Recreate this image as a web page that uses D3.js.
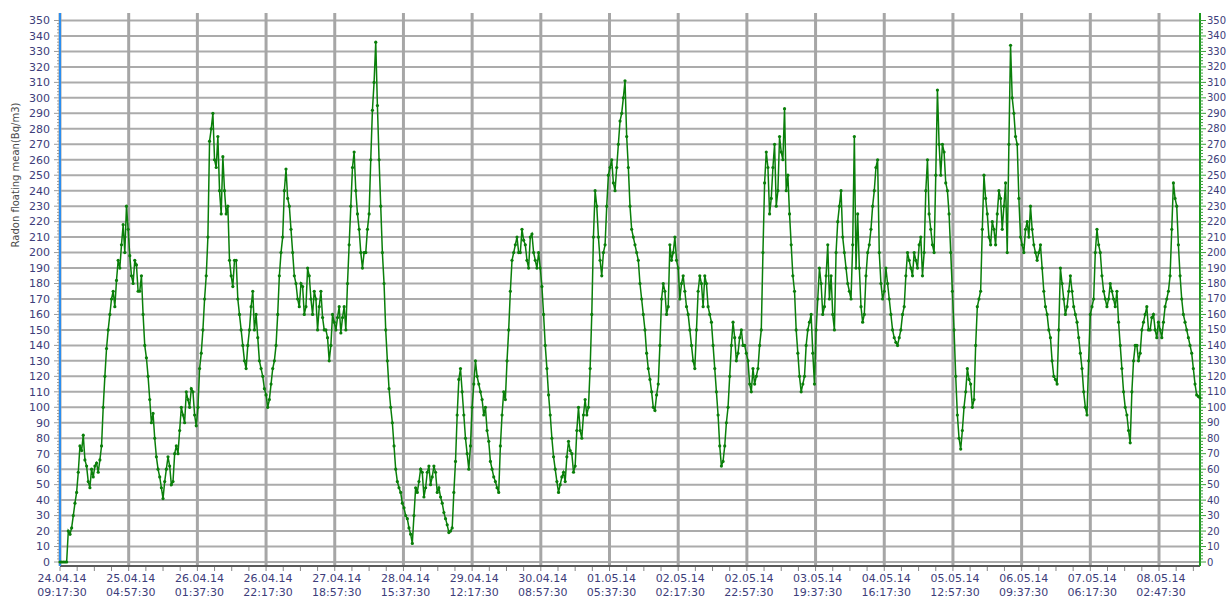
<!DOCTYPE html>
<html>
<head>
<meta charset="utf-8">
<script src="https://cdn.jsdelivr.net/npm/d3@7"></script>
<style>
  body { margin: 0; background: #fff; overflow: hidden; }
  text { font-family: "DejaVu Sans", Verdana, sans-serif; }
</style>
</head>
<body>
<div id="chart"></div>
<script>
// x tick labels (date line + time line)
var tickDates = ['24.04.14', '25.04.14', '26.04.14', '26.04.14', '27.04.14', '28.04.14', '29.04.14', '30.04.14', '01.05.14',
                 '02.05.14', '02.05.14', '03.05.14', '04.05.14', '05.05.14', '06.05.14', '07.05.14', '08.05.14'];
var tickTimes = ['09:17:30', '04:57:30', '01:37:30', '22:17:30', '18:57:30', '15:37:30', '12:17:30', '08:57:30', '05:37:30',
                 '02:17:30', '22:57:30', '19:37:30', '16:17:30', '12:57:30', '09:37:30', '06:17:30', '02:47:30'];
// y ticks 0..350
var yTicks = d3.range(0, 351, 10);
// radon floating mean, Bq/m3, reading on the hour, from 24.04.14 09:17:30
var radon = [
  0, 0, 0, 18, 30, 45, 75, 82, 62, 48,
  55, 64, 66, 100, 138, 160, 175, 182, 190, 218,
  230, 198, 180, 192, 175, 160, 132, 105, 96, 68,
  55, 41, 60, 62, 52, 75, 85, 95, 110, 100,
  110, 88, 125, 150, 185, 272, 290, 255, 240, 262,
  225, 195, 178, 195, 160, 140, 125, 150, 175, 160,
  130, 120, 108, 105, 125, 140, 185, 210, 254, 230,
  200, 180, 165, 178, 165, 185, 160, 170, 165, 158,
  150, 130, 160, 150, 165, 158,
  150, 205, 255, 240,
  215, 190, 200, 225, 292, 336, 260, 200, 150, 112,
  90, 60, 48, 38, 30, 22, 12, 48, 52, 58,
  48, 62, 55, 58, 48, 38, 28, 19, 22, 65,
  118, 110, 80, 60, 100, 130, 115, 105, 100, 78,
  60, 52, 45, 95, 105, 150, 195, 205, 200, 215,
  205, 190, 212, 195, 200, 178, 140, 108, 80, 60,
  45, 55, 52, 78, 70, 62, 100, 80, 105, 100,
  160, 240, 210, 185, 205, 250, 260, 240, 270, 290,
  311, 255,
  215, 205, 195, 170, 150, 125, 110, 98,
  115, 170, 175, 165, 195, 210, 190, 180, 175, 160,
  140, 125, 175, 180, 185, 165, 155, 125, 95, 62,
  75, 100, 140, 145, 135, 150, 140, 130, 110, 115,
  125, 150, 245, 255, 235, 270, 240, 265, 293, 250,
  205, 175, 135, 110, 120, 150, 160, 115, 170, 180,
  165, 205, 185, 150, 220, 240, 200, 180, 170, 275,
  225, 165, 160, 200, 215, 240, 260, 180, 175, 180,
  160, 145, 140, 150, 165, 200, 190,
  200, 190, 210,
  200, 260, 215, 200, 305, 250, 265, 240, 200, 150,
  95, 73, 100, 125, 115, 105, 165, 175, 250, 225,
  205, 215, 225, 235, 230, 200, 334, 290, 270, 210,
  200, 220, 230, 205, 195, 205, 175, 160, 145, 120,
  115, 190, 170, 165, 185, 165, 155, 135, 110, 95,
  160, 170, 215, 200, 175, 165, 180, 170, 175, 140,
  110, 95, 77, 130, 140, 135, 155, 165, 150, 160,
  145, 150, 155, 170, 185, 245, 230, 185, 160, 150,
  140, 125, 108, 106
];
// readings at half past each hour
var radonHalf = [
  0, 0, 20, 22, 38, 58, 72, 66, 52, 60,
  62, 58, 75, 120, 150, 170, 165, 195, 205, 200,
  215, 185, 195, 175, 185, 140, 120, 90, 80, 60,
  48, 52, 68, 50, 70, 70, 100, 90, 105, 112,
  95, 100, 135, 170, 210, 280, 260, 275, 225, 240,
  230, 185, 195, 170, 150, 130, 140, 165, 150, 145,
  125, 112, 100, 115, 130, 160, 200, 240, 235, 215,
  185, 170, 180, 160, 190, 170, 175, 150, 175, 150,
  145, 140, 155, 158, 148, 165,
  180, 230, 265, 225,
  200, 200, 215, 260, 310, 295, 230, 180, 130, 100,
  75, 52, 45, 35, 28, 18, 30, 45, 60, 42,
  58, 50, 62, 45, 42, 32, 24, 20, 45, 95,
  125, 95, 70, 75, 115, 120, 110, 95, 85, 65,
  55, 48, 75, 110, 130, 175, 200, 210, 200, 208,
  195, 210, 200, 190, 190, 160, 125, 95, 68, 52,
  50, 58, 68, 72, 58, 85, 85, 95, 95, 125,
  210, 230, 195, 200, 230, 255, 245, 255, 285, 300,
  275, 230,
  210, 200, 180, 160, 135, 118, 100, 108,
  140, 180, 160, 205, 200, 195, 170, 185, 165, 150,
  130, 150, 185, 165, 180, 160, 140, 110, 75, 65,
  90, 120, 155, 130, 145, 140, 135, 115, 125, 120,
  140, 200, 265, 225, 255, 230, 275, 260, 240, 225,
  185, 150, 120, 115, 140, 155, 135, 150, 190, 160,
  185, 170, 160, 200, 230, 210, 190, 175, 205, 190,
  190, 155, 185, 205, 230, 255, 200, 170, 190, 170,
  150, 142, 145, 160, 185, 195, 185,
  195, 205, 185,
  240, 225, 205, 250, 270, 270, 245, 225, 175, 120,
  80, 85, 110, 118, 100, 140, 170, 215, 235, 210,
  220, 205, 240, 215, 245, 270, 300, 275, 235, 205,
  215, 210, 215, 200, 200, 190, 165, 150, 130, 118,
  150, 180, 160, 175, 175, 160, 145, 125, 100, 130,
  165, 200, 205, 185, 170, 170, 175, 165, 155, 125,
  100, 85, 110, 140, 130, 150, 160, 150, 158, 150,
  155, 145, 165, 175, 215, 235, 205, 170, 155, 145,
  135, 115, 107
];
var hoursPerTick = 20 + 40 / 60;

// merge into one series of {t (hours), v}
var series = [];
radon.forEach(function(v, i) {
  series.push({t: i, v: v});
  if (i < radonHalf.length) series.push({t: i + 0.5, v: radonHalf[i]});
});

var W = 1228, H = 601;
var svg = d3.select('#chart').append('svg').attr('width', W).attr('height', H);

var x = d3.scaleLinear().domain([0, radon.length - 1]).range([60, 1200]);
var y = d3.scaleLinear().domain([0, 350]).range([562, 20.5]);
var tickPos = tickDates.map(function(d, i) { return i * hoursPerTick; });
var minorX = d3.range(0, radon.length - 1, hoursPerTick / 4);
var minorY = d3.range(0, 351, 2);

var labelColor = '#3d3d7a';

// grid
var grid = svg.append('g');
grid.selectAll('line.h').data(yTicks).enter().append('line')
  .attr('class', 'h').attr('x1', 60).attr('x2', 1200)
  .attr('y1', function(d) { return y(d); }).attr('y2', function(d) { return y(d); })
  .attr('stroke', '#ababab').attr('stroke-width', 2);
grid.selectAll('line.v').data(tickPos).enter().append('line')
  .attr('class', 'v').attr('y1', 13).attr('y2', 566)
  .attr('x1', function(d) { return x(d); }).attr('x2', function(d) { return x(d); })
  .attr('stroke', '#a6a6a6').attr('stroke-width', 3);

// bottom axis
var bx = svg.append('g');
bx.append('line').attr('x1', 60).attr('x2', 1200).attr('y1', 566).attr('y2', 566)
  .attr('stroke', '#5a5a5a').attr('stroke-width', 2);
bx.selectAll('line.mn').data(minorX).enter().append('line')
  .attr('x1', function(d) { return x(d); }).attr('x2', function(d) { return x(d); })
  .attr('y1', 567).attr('y2', 571).attr('stroke', '#888').attr('stroke-width', 1);
var lab = bx.selectAll('g.lab').data(tickPos).enter().append('g')
  .attr('transform', function(d) { return 'translate(' + (x(d) + 2) + ',0)'; });
lab.append('text').attr('y', 582).attr('text-anchor', 'middle').attr('font-size', 11)
  .attr('fill', labelColor).text(function(d, i) { return tickDates[i]; });
lab.append('text').attr('y', 596).attr('text-anchor', 'middle').attr('font-size', 11)
  .attr('fill', labelColor).text(function(d, i) { return tickTimes[i]; });

// left axis
var ly = svg.append('g');
ly.selectAll('line.mn').data(minorY).enter().append('line')
  .attr('x1', function(d) { return d % 10 === 0 ? 54 : 57; }).attr('x2', 60)
  .attr('y1', function(d) { return y(d); }).attr('y2', function(d) { return y(d); })
  .attr('stroke', '#9a9a9a').attr('stroke-width', 1);
ly.append('line').attr('x1', 60).attr('x2', 60).attr('y1', 13).attr('y2', 566)
  .attr('stroke', '#2a8ef0').attr('stroke-width', 2);
ly.selectAll('text').data(yTicks).enter().append('text')
  .attr('x', 50).attr('y', function(d) { return y(d); }).attr('dy', '0.35em')
  .attr('text-anchor', 'end').attr('font-size', 11).attr('fill', labelColor)
  .text(function(d) { return d; });

// right axis
var ry = svg.append('g');
ry.append('line').attr('x1', 1200).attr('x2', 1200).attr('y1', 13).attr('y2', 566)
  .attr('stroke', '#1e9a1e').attr('stroke-width', 2);
ry.selectAll('line.mn').data(minorY).enter().append('line')
  .attr('x1', 1200).attr('x2', function(d) { return d % 10 === 0 ? 1206 : 1203; })
  .attr('y1', function(d) { return y(d); }).attr('y2', function(d) { return y(d); })
  .attr('stroke', '#3aa03a').attr('stroke-width', 1);
ry.selectAll('text').data(yTicks).enter().append('text')
  .attr('x', 1207).attr('y', function(d) { return y(d); }).attr('dy', '0.35em')
  .attr('text-anchor', 'start').attr('font-size', 10).attr('fill', labelColor)
  .text(function(d) { return d; });

// axis title
svg.append('text').attr('transform', 'translate(19,175) rotate(-90)')
  .attr('text-anchor', 'middle').attr('font-size', 10).attr('fill', '#4a4a4a')
  .text('Radon floating mean(Bq/m3)');

// series
var line = d3.line()
  .x(function(d) { return x(d.t); })
  .y(function(d) { return y(d.v); });
svg.append('path').datum(series).attr('d', line)
  .attr('fill', 'none').attr('stroke', '#0a7f0a').attr('stroke-width', 1.5);
svg.selectAll('circle.pt').data(series).enter().append('circle')
  .attr('class', 'pt').attr('cx', function(d) { return x(d.t); }).attr('cy', function(d) { return y(d.v); })
  .attr('r', 1.6).attr('fill', '#0a7f0a');
</script>
</body>
</html>
